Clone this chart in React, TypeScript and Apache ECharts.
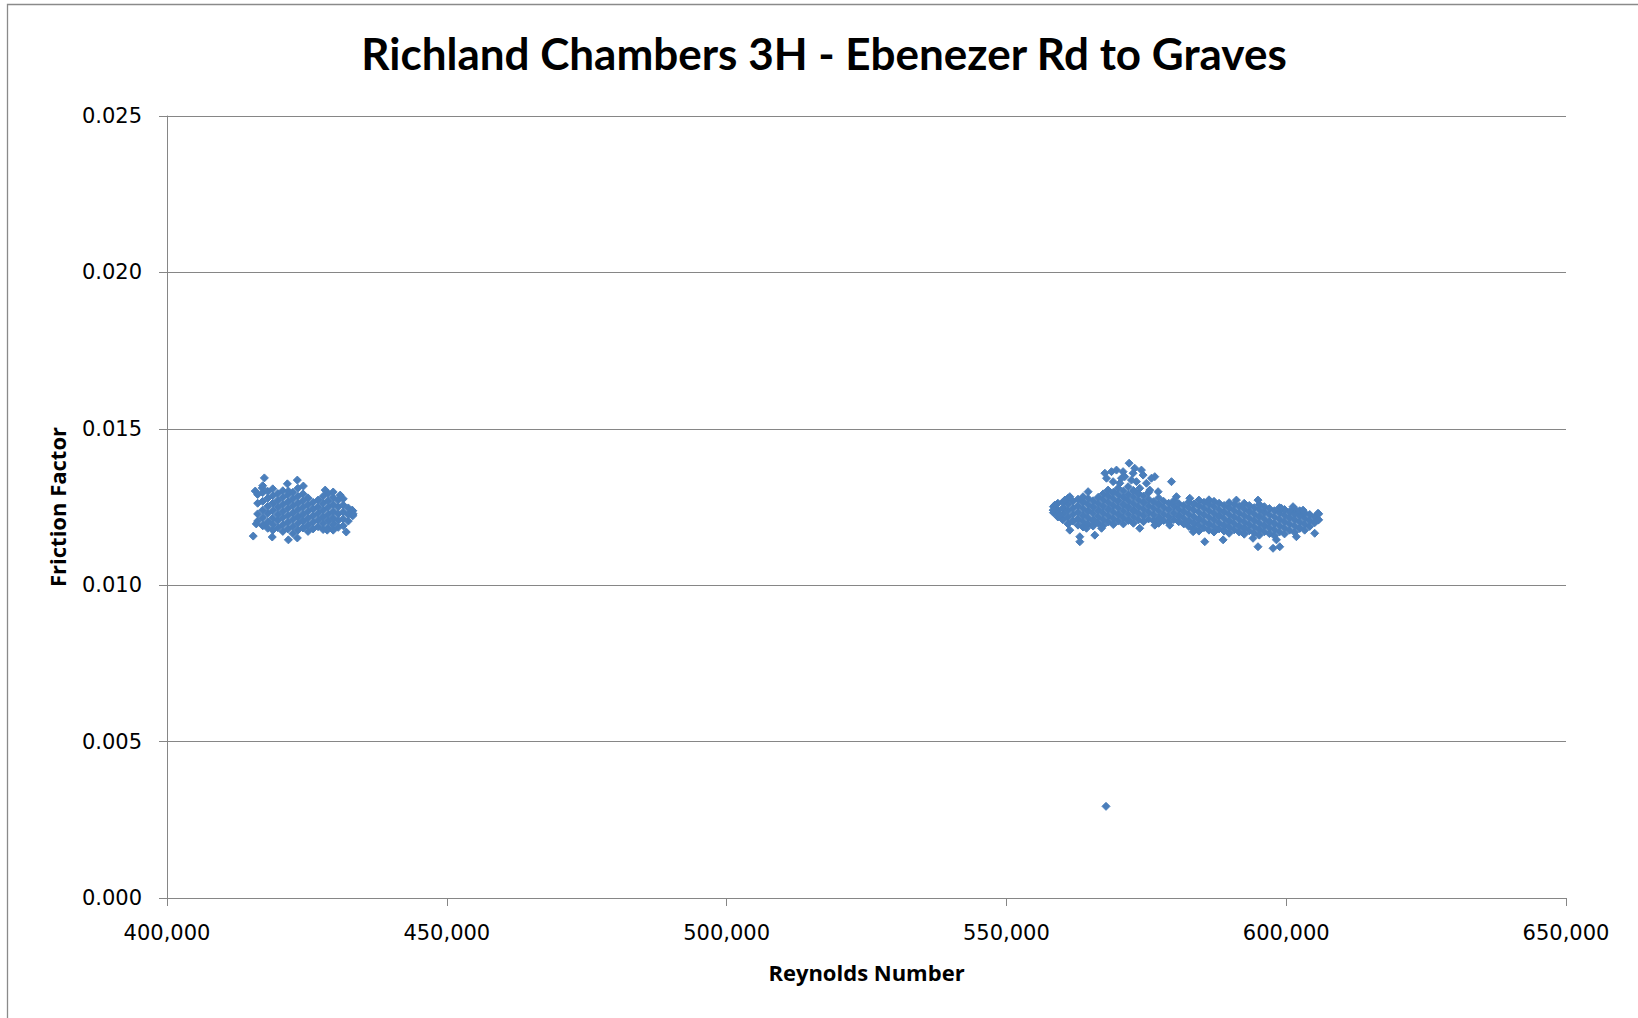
import { useEffect, useRef } from "react";
import * as echarts from "echarts";

const chartTitle = "Richland Chambers 3H - Ebenezer Rd to Graves";
const xAxisTitle = "Reynolds Number";
const yAxisTitle = "Friction Factor";

// Axis ranges and tick labels
const reynoldsTicks = [400000, 450000, 500000, 550000, 600000, 650000];
const frictionTicks = [0, 0.005, 0.01, 0.015, 0.02, 0.025];

// Lower-flow run: each entry is a Reynolds number and the friction factors logged near it
const lowFlowColumns: [number, number[]][] = [
  [416200, [0.01205, 0.01228, 0.01262, 0.0129]],
  [417100, [0.0119, 0.01216, 0.0124, 0.01268, 0.01296, 0.01318]],
  [418000, [0.01182, 0.01203, 0.01229, 0.01252, 0.01278, 0.013]],
  [418900, [0.01176, 0.01195, 0.01214, 0.01238, 0.01262, 0.01286, 0.01308]],
  [419800, [0.01184, 0.01207, 0.01226, 0.01249, 0.01271, 0.01293]],
  [420700, [0.01172, 0.01193, 0.01216, 0.01236, 0.01258, 0.0128, 0.01302]],
  [421600, [0.0118, 0.01201, 0.01223, 0.01245, 0.01266, 0.01289]],
  [422500, [0.01165, 0.01188, 0.0121, 0.01231, 0.01254, 0.01276, 0.01297]],
  [423400, [0.01176, 0.01197, 0.01218, 0.01241, 0.01262, 0.01284, 0.0131]],
  [424300, [0.01183, 0.01205, 0.01227, 0.01249, 0.0127, 0.01292]],
  [425200, [0.01172, 0.01192, 0.01214, 0.01236, 0.01257, 0.01279]],
  [426100, [0.0118, 0.01201, 0.01222, 0.01244, 0.01265]],
  [427000, [0.01187, 0.01208, 0.0123, 0.01251, 0.01272]],
  [427900, [0.01178, 0.01197, 0.01218, 0.0124, 0.01262, 0.01284]],
  [428800, [0.01184, 0.01206, 0.01227, 0.01249, 0.0127, 0.01293]],
  [429700, [0.01176, 0.01195, 0.01215, 0.01236, 0.01258, 0.0128]],
  [430600, [0.01185, 0.01207, 0.01228, 0.0125, 0.01272]],
  [431500, [0.0119, 0.01212, 0.01234, 0.01256, 0.01276]],
  [432400, [0.01205, 0.01226, 0.01247]],
  [433200, [0.01222, 0.01238]],
];

const lowFlowStrays: [number, number][] = [
  [417400, 0.01343], [423290, 0.01336], [421510, 0.01324], [415770, 0.01301],
  [417020, 0.01311], [421690, 0.01301], [424370, 0.01317], [415410, 0.01157],
  [418810, 0.01154], [421690, 0.01145], [423290, 0.01151], [415950, 0.01196],
  [417200, 0.01192], [432030, 0.0117], [428630, 0.01176], [433090, 0.0124],
  [433270, 0.01228], [428270, 0.01304], [429700, 0.01298], [430950, 0.01288],
];

// Higher-flow run
const highFlowColumns: [number, number[]][] = [
  [558400, [0.01232, 0.01251]],
  [559200, [0.01218, 0.0124, 0.01262]],
  [560100, [0.01209, 0.01228, 0.01247, 0.01266]],
  [561000, [0.01196, 0.01217, 0.01238, 0.01259, 0.01278]],
  [561900, [0.01205, 0.01226, 0.01246, 0.01268]],
  [562800, [0.01192, 0.01212, 0.01233, 0.01254, 0.01275]],
  [563700, [0.01186, 0.01204, 0.01224, 0.01245, 0.01266, 0.01283]],
  [564600, [0.01196, 0.01216, 0.01237, 0.01258, 0.01277]],
  [565500, [0.01189, 0.01208, 0.01229, 0.0125, 0.0127]],
  [566400, [0.01199, 0.01219, 0.0124, 0.01261, 0.01281]],
  [567300, [0.01191, 0.0121, 0.01231, 0.01252, 0.01273, 0.01292]],
  [568200, [0.01202, 0.01222, 0.01243, 0.01264, 0.01285]],
  [569100, [0.01194, 0.01213, 0.01234, 0.01255, 0.01276, 0.01297]],
  [570000, [0.01205, 0.01226, 0.01247, 0.01268, 0.01289]],
  [570900, [0.01196, 0.01216, 0.01237, 0.01258, 0.0128, 0.01301]],
  [571800, [0.01207, 0.01228, 0.01249, 0.0127, 0.01291]],
  [572700, [0.01198, 0.01218, 0.01239, 0.0126, 0.01282, 0.01303]],
  [573600, [0.01209, 0.0123, 0.01251, 0.01272, 0.01293]],
  [574500, [0.01203, 0.01222, 0.01243, 0.01264, 0.01285]],
  [575400, [0.01212, 0.01233, 0.01254, 0.01275, 0.01296]],
  [576300, [0.01206, 0.01225, 0.01246, 0.01267]],
  [577200, [0.01198, 0.01216, 0.01237, 0.01258, 0.01279]],
  [578100, [0.01207, 0.01228, 0.01249, 0.01268]],
  [579000, [0.01201, 0.0122, 0.01241, 0.01262]],
  [579900, [0.0121, 0.01231, 0.01252, 0.0127]],
  [580800, [0.01203, 0.01222, 0.01243, 0.01261]],
  [581700, [0.01196, 0.01214, 0.01235, 0.01255]],
  [582600, [0.01188, 0.01206, 0.01227, 0.01248, 0.01266]],
  [583500, [0.0118, 0.01199, 0.01219, 0.0124, 0.0126]],
  [584400, [0.01173, 0.01192, 0.01212, 0.01233, 0.01254, 0.01272]],
  [585300, [0.01184, 0.01204, 0.01225, 0.01246, 0.01265]],
  [586200, [0.01176, 0.01196, 0.01217, 0.01238, 0.01258, 0.01273]],
  [587100, [0.0117, 0.01188, 0.01209, 0.0123, 0.01251, 0.01268]],
  [588000, [0.0118, 0.012, 0.01221, 0.01242, 0.01262]],
  [588900, [0.01173, 0.01192, 0.01213, 0.01234, 0.01255]],
  [589800, [0.01166, 0.01185, 0.01205, 0.01226, 0.01247, 0.01264]],
  [590700, [0.01177, 0.01197, 0.01218, 0.01239, 0.01258]],
  [591600, [0.0117, 0.01189, 0.0121, 0.01231, 0.01252]],
  [592500, [0.01163, 0.01182, 0.01202, 0.01223, 0.01244, 0.01262]],
  [593400, [0.01174, 0.01194, 0.01215, 0.01236, 0.01255]],
  [594300, [0.01167, 0.01186, 0.01207, 0.01228, 0.01248]],
  [595200, [0.0116, 0.01179, 0.01199, 0.0122, 0.01241, 0.01258]],
  [596100, [0.01171, 0.01191, 0.01212, 0.01233, 0.01251]],
  [597000, [0.01165, 0.01184, 0.01204, 0.01225, 0.01245]],
  [597900, [0.01158, 0.01177, 0.01197, 0.01218, 0.01238]],
  [598800, [0.0117, 0.0119, 0.01211, 0.01231, 0.01248]],
  [599700, [0.01164, 0.01183, 0.01203, 0.01224, 0.01242]],
  [600600, [0.01176, 0.01196, 0.01216, 0.01235]],
  [601500, [0.01169, 0.01189, 0.01209, 0.01229, 0.01244]],
  [602400, [0.01182, 0.01202, 0.01222, 0.01238]],
  [603300, [0.01176, 0.01195, 0.01214, 0.01231]],
  [604200, [0.01188, 0.01207, 0.01226]],
  [605100, [0.012, 0.01218]],
  [605800, [0.01209, 0.01228]],
];

// Raised readings around 567,000 - 580,000
const highFlowHump: [number, number][] = [
  [571930, 0.0139], [567600, 0.01358], [567890, 0.01342], [568780, 0.01363],
  [569670, 0.01368], [570850, 0.01363], [571150, 0.01347], [572640, 0.01358],
  [574130, 0.01368], [574430, 0.01352], [576520, 0.01347], [575920, 0.01342],
  [579500, 0.01331], [570260, 0.01326], [569070, 0.01331], [573240, 0.01331],
  [575030, 0.01326], [571750, 0.01315], [573830, 0.0131], [569960, 0.0131],
  [575620, 0.01304], [568170, 0.01304], [577110, 0.01299], [564600, 0.01299],
  [580390, 0.01283], [572340, 0.01336], [570560, 0.01342], [572930, 0.01374],
];

const highFlowStrays: [number, number][] = [
  [558650, 0.01256], [558350, 0.0124], [559540, 0.01224], [560440, 0.01272],
  [561330, 0.01283], [561330, 0.01176], [563120, 0.01155], [563120, 0.01139],
  [565800, 0.0116], [564310, 0.01182], [567000, 0.01182], [573830, 0.01182],
  [576520, 0.01192], [579190, 0.01192], [585450, 0.01139], [588730, 0.01145],
  [594960, 0.01123], [597650, 0.01118], [598850, 0.01123], [598250, 0.01145],
  [601820, 0.01155], [605090, 0.01166], [602420, 0.01182], [594070, 0.0115],
  [583370, 0.01171], [605680, 0.0123], [605680, 0.01208], [603010, 0.0124],
  [601220, 0.01251], [599140, 0.01246], [591100, 0.01272], [594960, 0.01272],
  [582770, 0.01278],
];

// Single low reading
const lowReading: [number, number][] = [[567800, 0.00293]];

const AXIS_GREY = "#868686";
const MARKER_BLUE = "#4A7EBB";

function expand(columns: [number, number[]][]): [number, number][] {
  return columns.flatMap(([re, ffs]) => ffs.map((ff) => [re, ff] as [number, number]));
}

export default function App() {
  const ref = useRef<HTMLDivElement>(null);

  useEffect(() => {
    if (!ref.current) return;
    const chart = echarts.init(ref.current, undefined, { renderer: "svg" });

    const points = [
      ...expand(lowFlowColumns),
      ...lowFlowStrays,
      ...expand(highFlowColumns),
      ...highFlowHump,
      ...highFlowStrays,
      ...lowReading,
    ];

    const xStep = reynoldsTicks[1] - reynoldsTicks[0];
    const yStep = frictionTicks[1] - frictionTicks[0];

    chart.setOption({
      animation: false,
      backgroundColor: "#ffffff",
      graphic: [
        {
          type: "rect",
          silent: true,
          shape: { x: 7.5, y: 4.5, width: 1700, height: 1100 },
          style: { fill: "none", stroke: "#8a8a8a", lineWidth: 1.3 },
        },
        {
          type: "text",
          silent: true,
          x: 824,
          y: 53,
          style: {
            text: chartTitle,
            fontFamily: "Lato",
            fontWeight: "bold",
            fontSize: 44,
            fill: "#000000",
            textAlign: "center",
            textVerticalAlign: "middle",
          },
        },
      ],
      grid: { left: 167, right: 72, top: 116, bottom: 120 },
      xAxis: {
        type: "value",
        min: reynoldsTicks[0],
        max: reynoldsTicks[reynoldsTicks.length - 1],
        interval: xStep,
        name: xAxisTitle,
        nameLocation: "middle",
        nameGap: 63,
        nameTextStyle: {
          fontFamily: "Open Sans",
          fontWeight: "bold",
          fontSize: 22,
          color: "#000000",
        },
        axisLine: { show: true, lineStyle: { color: AXIS_GREY, width: 1 } },
        axisTick: { show: true, length: 8, lineStyle: { color: AXIS_GREY, width: 1 } },
        axisLabel: {
          margin: 24,
          fontFamily: "DejaVu Sans",
          fontSize: 21,
          color: "#000000",
          formatter: (v: number) => v.toLocaleString("en-US"),
        },
        splitLine: { show: false },
      },
      yAxis: {
        type: "value",
        min: frictionTicks[0],
        max: frictionTicks[frictionTicks.length - 1],
        interval: yStep,
        name: yAxisTitle,
        nameLocation: "middle",
        nameRotate: 90,
        nameGap: 99,
        nameTextStyle: {
          fontFamily: "Open Sans",
          fontWeight: "bold",
          fontSize: 22,
          color: "#000000",
        },
        axisLine: { show: true, lineStyle: { color: AXIS_GREY, width: 1 } },
        axisTick: { show: true, length: 8, lineStyle: { color: AXIS_GREY, width: 1 } },
        axisLabel: {
          margin: 25,
          fontFamily: "DejaVu Sans",
          fontSize: 21,
          color: "#000000",
          formatter: (v: number) => v.toFixed(3),
        },
        splitLine: { show: true, lineStyle: { color: AXIS_GREY, width: 1 } },
      },
      series: [
        {
          type: "scatter",
          symbol: "diamond",
          symbolSize: 8,
          itemStyle: {
            color: MARKER_BLUE,
            borderColor: MARKER_BLUE,
            borderWidth: 1,
            opacity: 1,
          },
          data: points,
        },
      ],
    });

    return () => chart.dispose();
  }, []);

  return (
    <div
      ref={ref}
      style={{ position: "fixed", left: 0, top: 0, width: 1638, height: 1018 }}
    />
  );
}
